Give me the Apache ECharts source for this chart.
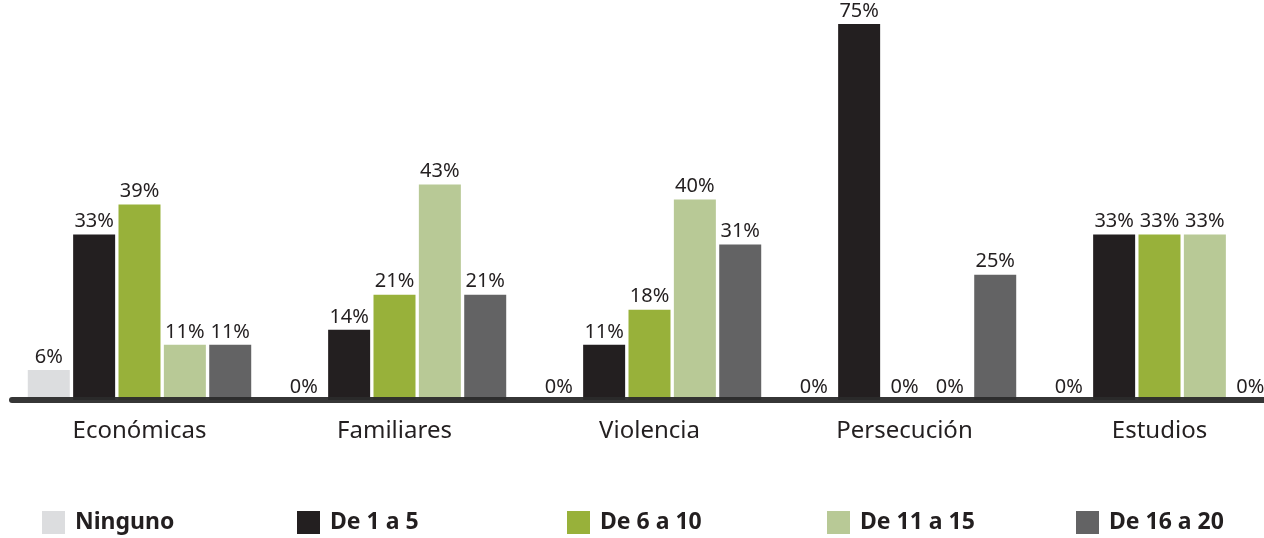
<!DOCTYPE html>
<html>
<head>
<meta charset="utf-8">
<script src="https://cdn.jsdelivr.net/npm/echarts@6/dist/echarts.min.js"></script>
<style>
  html, body { margin: 0; padding: 0; background: #fff; }
  #chart { width: 1264px; height: 538px; }
</style>
</head>
<body>
<div id="chart"></div>
<script>
// categories and series values (percent)
const categories = ["Económicas", "Familiares", "Violencia", "Persecución", "Estudios"];
const seriesNames = ["Ninguno", "De 1 a 5", "De 6 a 10", "De 11 a 15", "De 16 a 20"];
const ninguno = [6, 0, 0, 0, 0];
const de1a5 = [33, 14, 11, 75, 33];
const de6a10 = [39, 21, 18, 0, 33];
const de11a15 = [11, 43, 40, 0, 33];
const de16a20 = [11, 21, 31, 25, 0];

const values = [ninguno, de1a5, de6a10, de11a15, de16a20];
const colors = ["#dcdddf", "#231f20", "#98b13a", "#b8c996", "#636364"];
const legendLeft = [42, 297, 567, 827, 1076];

const font = "'Noto Sans', 'Open Sans', sans-serif";

const chart = echarts.init(document.getElementById("chart"));

const option = {
	animation: false,
	color: colors,
	grid: {
		left: 12,
		width: 1275,
		top: 24,
		bottom: 138,
		containLabel: false,
		outerBoundsMode: "none",
	},
	legend: seriesNames.map((name, i) => ({
		data: [name],
		left: legendLeft[i],
		top: 511,
		padding: 0,
		icon: "rect",
		itemWidth: 23,
		itemHeight: 23,
		textStyle: {
			fontFamily: font,
			fontSize: 23,
			fontWeight: "bold",
			color: "#231f20",
			padding: [0, 0, 0, 5],
		},
	})),
	xAxis: {
		type: "category",
		data: categories,
		z: 5,
		axisLine: {
			lineStyle: { color: "#2b2b2b", width: 6, opacity: 0.95 },
		},
		axisTick: { show: false },
		axisLabel: {
			margin: 19,
			fontFamily: font,
			fontSize: 24,
			color: "#231f20",
		},
	},
	yAxis: {
		type: "value",
		min: 0,
		max: 75,
		show: false,
		splitLine: { show: false },
	},
	series: seriesNames.map((name, i) => ({
		name: name,
		type: "bar",
		data: values[i],
		barWidth: 42,
		barGap: "8%",
		barCategoryGap: "12%",
		itemStyle: { color: colors[i] },
		label: {
			show: true,
			position: "top",
			distance: 3,
			formatter: "{c}%",
			fontFamily: font,
			fontSize: 20,
			color: "#231f20",
		},
	})),
};

chart.setOption(option);
</script>
</body>
</html>
